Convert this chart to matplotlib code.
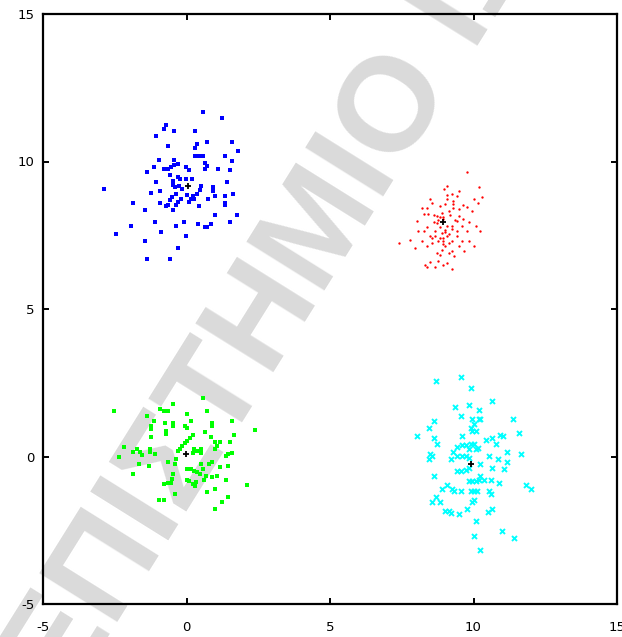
import matplotlib
matplotlib.use("Agg")
import matplotlib.pyplot as plt

# ---- data ----
blue_x = [0.58, 1.22, -0.71, -0.77, -0.42, 0.28, -1.06, 0.35, 0.70, 1.57, 0.28, -0.65, 1.80, 0.30, 0.44, 0.56,
          1.34, -0.95, -0.42, 1.57, 0.64, 0.70, 0.64, -1.13, -0.77, -0.65, -0.53, -0.42, -0.30, -0.01, 0.07, 1.11,
          1.51, -1.36, -0.59, -0.30, -0.22, -0.01, 0.19, -1.06, -0.48, -0.48, 1.40, -0.41, -0.25, -0.14, 0.51, 0.94,
          0.94, -2.88, -0.94, -1.23, 0.48, 0.38, 0.03, 0.21, 0.15, 0.27, -0.36, 1.00, 1.35, 1.63, -0.52, -0.59,
          -0.66, -0.71, -0.20, -0.31, -0.36, 0.76, -1.88, -0.94, 1.34, 1.34, 0.08, 0.45, -1.46, -0.48, 1.75, 0.99,
          -1.11, -0.36, -0.07, 0.41, 0.64, 0.73, 0.87, 1.51, -1.94, -2.46, -0.88, -0.01, -1.46, -0.30, -1.36, -0.59]
blue_y = [11.68, 11.46, 11.24, 11.10, 11.05, 11.05, 10.87, 10.59, 10.65, 10.65, 10.45, 10.52, 10.35, 10.18, 10.18,
          10.18, 10.18, 10.06, 10.06, 10.01, 9.96, 9.84, 9.76, 9.82, 9.76, 9.76, 9.82, 9.87, 9.90, 9.82, 9.70, 9.76,
          9.70, 9.65, 9.53, 9.46, 9.40, 9.40, 9.40, 9.30, 9.35, 9.22, 9.30, 9.14, 9.17, 9.08, 9.17, 9.12, 8.99, 9.06,
          9.00, 8.94, 9.02, 8.91, 8.88, 8.83, 8.74, 8.74, 8.91, 8.82, 8.82, 8.89, 8.81, 8.68, 8.54, 8.48, 8.74, 8.63,
          8.54, 8.72, 8.59, 8.59, 8.59, 8.51, 8.63, 8.48, 8.36, 8.36, 8.17, 8.17, 7.95, 7.83, 7.95, 7.89, 7.78, 7.78,
          7.89, 7.95, 7.83, 7.54, 7.60, 7.48, 7.30, 7.07, 6.71, 6.71]

red_x = [9.78, 10.19, 10.30, 9.07, 8.97, 9.49, 9.26, 9.08, 9.43, 8.49, 9.07, 9.30, 10.01, 8.55, 9.01, 9.30, 10.17,
         8.84, 9.65, 9.78, 8.20, 8.37, 9.30, 9.13, 9.49, 9.95, 8.26, 8.43, 8.61, 8.90, 8.74, 9.19, 9.49, 8.84, 8.92,
         8.78, 8.95, 9.36, 9.65, 8.02, 8.61, 8.72, 9.42, 9.84, 9.07, 9.24, 9.61, 10.07, 8.37, 8.84, 9.24, 9.01, 9.01,
         10.24, 8.08, 8.26, 8.67, 9.42, 9.78, 8.90, 9.13, 9.42, 8.49, 8.67, 9.07, 8.84, 8.95, 8.55, 8.78, 8.95, 8.95,
         9.13, 9.24, 9.61, 9.84, 7.79, 8.20, 8.55, 7.39, 7.97, 8.37, 9.01, 9.48, 10.01, 8.90, 9.26, 9.66, 8.72, 9.13,
         8.84, 9.31, 8.49, 8.78, 8.95, 9.07, 8.67, 9.24, 8.32, 8.37]
red_y = [9.65, 9.12, 8.78, 9.17, 9.06, 9.00, 8.89, 8.86, 8.83, 8.72, 8.72, 8.66, 8.72, 8.59, 8.55, 8.55, 8.59, 8.48,
         8.51, 8.46, 8.42, 8.42, 8.44, 8.32, 8.38, 8.31, 8.23, 8.23, 8.17, 8.26, 8.14, 8.17, 8.14, 8.12, 8.12, 8.03,
         8.06, 8.03, 8.06, 8.00, 7.95, 7.92, 7.97, 7.95, 7.83, 7.81, 7.83, 7.83, 7.78, 7.78, 7.70, 7.69, 7.61, 7.66,
         7.64, 7.64, 7.64, 7.64, 7.64, 7.57, 7.55, 7.49, 7.46, 7.49, 7.46, 7.41, 7.41, 7.41, 7.30, 7.30, 7.21, 7.23,
         7.30, 7.30, 7.30, 7.35, 7.30, 7.23, 7.23, 7.06, 7.15, 7.13, 7.13, 7.13, 7.01, 6.96, 6.96, 6.89, 6.89, 6.84,
         6.78, 6.59, 6.64, 6.50, 6.55, 6.42, 6.36, 6.50, 6.42]

green_x = [-2.53, -0.46, 0.58, -0.94, -0.80, -0.64, 0.00, 0.70, -1.36, -1.13, -0.76, -0.46, -0.46, 0.17, 0.88, 0.88,
           1.58, -1.24, -1.24, -0.06, 0.03, -0.71, -0.71, 0.64, 2.39, 1.64, -1.22, 0.21, 0.13, 0.03, -0.06, -0.14,
           -0.22, -0.29, 0.87, 0.99, 1.16, 1.05, 0.99, 1.52, -2.17, -1.71, -1.63, -1.54, -1.88, -1.28, -1.28, -1.10,
           0.27, 0.50, 0.38, 0.23, 0.50, 1.45, 1.58, 1.39, -2.35, -1.65, -1.30, -0.64, -0.41, -0.37, 0.52, 0.79, 0.88,
           1.16, 1.46, 0.03, 0.15, 0.27, 0.36, 0.48, 0.58, 0.69, 0.62, -1.88, -0.48, 0.88, 1.05, 1.39, 0.01, 0.10,
           0.22, 0.34, -0.52, -0.55, -0.63, -0.78, 0.29, 0.99, 2.10, 0.70, -0.41, 1.45, 1.22, -0.95, -0.80, 0.99]
green_y = [1.55, 1.79, 1.97, 1.62, 1.54, 1.54, 1.44, 1.55, 1.38, 1.20, 1.14, 1.14, 1.05, 1.20, 1.14, 1.03, 1.20,
           1.03, 0.92, 1.03, 0.98, 0.86, 0.77, 0.84, 0.91, 0.73, 0.67, 0.73, 0.64, 0.52, 0.47, 0.37, 0.26, 0.18,
           0.67, 0.50, 0.50, 0.37, 0.24, 0.50, 0.33, 0.26, 0.16, 0.04, 0.15, 0.26, 0.15, 0.09, 0.24, 0.24, 0.18,
           0.13, 0.13, 0.09, 0.13, 0.01, -0.02, -0.25, -0.33, -0.19, -0.24, -0.10, -0.27, -0.24, -0.19, -0.36,
           -0.33, -0.42, -0.42, -0.48, -0.53, -0.59, -0.44, -0.67, -0.78, -0.61, -0.59, -0.69, -0.65, -0.78, -0.78,
           -0.84, -0.92, -0.86, -0.76, -0.89, -0.89, -0.93, -1.01, -1.09, -0.98, -1.20, -1.26, -1.38, -1.55, -1.49,
           -1.49, -1.78]

cyan_x = [8.68, 9.55, 9.90, 10.63, 9.37, 9.84, 10.19, 9.55, 11.37, 8.62, 9.95, 10.19, 10.24, 10.01, 8.44, 9.90,
          10.07, 9.95, 11.60, 8.02, 8.62, 8.74, 9.61, 10.42, 10.65, 10.77, 10.94, 11.02, 11.18, 11.66, 9.61, 9.73,
          9.44, 9.30, 9.44, 9.61, 9.73, 9.84, 9.91, 10.02, 10.07, 9.84, 10.14, 8.50, 8.44, 8.56, 9.21, 10.53, 10.84,
          11.18, 10.24, 10.66, 11.07, 9.43, 9.56, 9.75, 9.84, 8.62, 10.24, 10.37, 10.19, 9.84, 9.95, 10.07, 10.60,
          10.89, 11.84, 12.01, 8.91, 9.09, 9.26, 9.33, 9.56, 9.90, 10.01, 10.13, 10.53, 10.60, 8.68, 8.56, 8.85,
          10.01, 9.95, 9.02, 9.15, 9.21, 9.49, 9.78, 10.49, 10.66, 10.07, 11.01, 11.42, 10.01, 10.24]
cyan_y = [2.56, 2.68, 2.31, 1.88, 1.68, 1.73, 1.56, 1.37, 1.28, 1.20, 1.28, 1.28, 1.28, 1.11, 0.98, 0.98, 0.86,
          0.86, 0.79, 0.69, 0.64, 0.44, 0.69, 0.55, 0.64, 0.44, 0.73, 0.69, 0.15, 0.09, 0.38, 0.38, 0.32, 0.16, 0.03,
          0.01, 0.01, -0.04, 0.41, 0.41, 0.26, 0.27, 0.29, 0.07, -0.10, 0.01, -0.10, 0.03, -0.10, -0.19, -0.25,
          -0.38, -0.44, -0.50, -0.50, -0.45, -0.38, -0.67, -0.65, -0.78, -0.78, -0.82, -0.82, -0.82, -0.78, -0.89,
          -0.95, -1.09, -1.09, -0.95, -1.10, -1.16, -1.16, -1.16, -1.16, -1.16, -1.16, -1.27, -1.38, -1.54, -1.54,
          -1.46, -1.54, -1.84, -1.86, -1.91, -1.95, -1.78, -1.88, -1.78, -2.18, -2.52, -2.77, -2.71, -3.17]

center_x = [0.06, 8.95, -0.01, 9.90]
center_y = [9.16, 7.95, 0.09, -0.25]

ticks = [-5, 0, 5, 10, 15]
tick_labels = ["-5", "0", "5", "10", "15"]
watermark = "ΠΑΝΕΠΙΣΤΗΜΙΟ ΙΩΑΝΝΙΝΩΝ"

# ---- figure ----
W, H = 622, 637
fig = plt.figure(figsize=(W / 100, H / 100), dpi=100)
fig.patch.set_facecolor("white")
ax = fig.add_axes([43 / W, 1 - 604 / H, (617 - 43) / W, (604 - 14) / H])
ax.set_xlim(-5, 15)
ax.set_ylim(-5, 15)

ax.plot(blue_x, blue_y, linestyle="none", marker="s", ms=3.5, mew=0, color="#0000ff", zorder=3)
ax.plot(red_x, red_y, linestyle="none", marker="o", ms=1.7, mew=0, color="#ff0000", zorder=3)
ax.plot(green_x, green_y, linestyle="none", marker="s", ms=3.5, mew=0, color="#00ff00", zorder=3)
ax.plot(cyan_x, cyan_y, linestyle="none", marker="x", ms=3.6, mew=1.4, color="#00ffff", zorder=3)
ax.plot(center_x, center_y, linestyle="none", marker="+", ms=4.5, mew=1.3, color="black", zorder=4)

ax.set_xticks(ticks)
ax.set_xticklabels(tick_labels)
ax.set_yticks(ticks)
ax.set_yticklabels(tick_labels)
ax.tick_params(direction="in", top=True, right=True, length=4.5, width=1.4,
               labelsize=9.5, colors="black")
ax.tick_params(axis="y", pad=6)
ax.tick_params(axis="x", pad=12)
for s in ax.spines.values():
    s.set_linewidth(1.6)
    s.set_zorder(5)

# watermark
fig.text(-0.140, -0.490, watermark, rotation=58, rotation_mode="anchor",
         ha="left", va="baseline", fontsize=96, fontweight="bold", color="#dadada",
         family=["Liberation Sans", "DejaVu Sans"], zorder=1)
ax.set_zorder(2)
ax.patch.set_alpha(0)

fig.savefig("out.png", dpi=100)
